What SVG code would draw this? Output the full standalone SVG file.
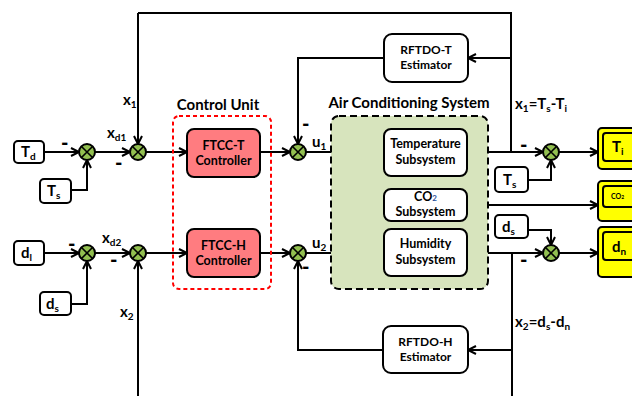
<svg xmlns="http://www.w3.org/2000/svg" width="632" height="396" viewBox="0 0 632 396">
<style>
.ln{fill:none;stroke:#000;stroke-width:2}
.box{fill:#fff;stroke:#000;stroke-width:2}
.ctl{fill:#FF7C80;stroke:#000;stroke-width:2}
.yel{fill:#FFFF00;stroke:#000;stroke-width:2}
.t{font-family:Lato,"Liberation Sans",sans-serif;font-weight:bold;fill:#000}
.bt{font-family:Lato,"Liberation Sans",sans-serif;font-weight:bold;font-size:12.5px;text-anchor:middle;fill:#000}
.et{font-size:12px}
.lbl{font-family:Lato,"Liberation Sans",sans-serif;font-weight:bold;font-size:15px;fill:#000}
.sub{font-size:10px}
.mn{font-family:Lato,"Liberation Sans",sans-serif;font-weight:900;font-size:20px;fill:#000}
</style>
<defs>
<marker id="ar" markerUnits="userSpaceOnUse" markerWidth="12" markerHeight="12" refX="9" refY="5" orient="auto">
<path d="M1,1 L9,5 L1,9" fill="none" stroke="#000" stroke-width="2"/>
</marker>
<g id="sj">
<circle r="8" fill="#92BF50" stroke="#000" stroke-width="2"/>
<path d="M-5.5,-5.5 L5.5,5.5 M-5.5,5.5 L5.5,-5.5" stroke="#000" stroke-width="1.6"/>
</g>
</defs>

<g id="connectors">
<path class="ln" d="M44,152 H79" marker-end="url(#ar)"/>
<path class="ln" d="M71,190 H87 V160" marker-end="url(#ar)"/>
<path class="ln" d="M95,152 H130" marker-end="url(#ar)"/>
<path class="ln" d="M138,13 V144" marker-end="url(#ar)"/>
<path class="ln" d="M138,13 H511 V152"/>
<path class="ln" d="M146,152 H187" marker-end="url(#ar)"/>
<path class="ln" d="M260,152 H290" marker-end="url(#ar)"/>
<path class="ln" d="M306,152 H384" marker-end="url(#ar)"/>
<path class="ln" d="M467,152 H543" marker-end="url(#ar)"/>
<path class="ln" d="M559,152 H598" marker-end="url(#ar)"/>
<path class="ln" d="M528,180 H551 V160" marker-end="url(#ar)"/>
<path class="ln" d="M511,58 H468" marker-end="url(#ar)"/>
<path class="ln" d="M384,58 H298 V144" marker-end="url(#ar)"/>

<path class="ln" d="M44,253 H79" marker-end="url(#ar)"/>
<path class="ln" d="M71,304 H87 V261" marker-end="url(#ar)"/>
<path class="ln" d="M95,253 H130" marker-end="url(#ar)"/>
<path class="ln" d="M138,396 V261" marker-end="url(#ar)"/>
<path class="ln" d="M146,253 H187" marker-end="url(#ar)"/>
<path class="ln" d="M260,253 H290" marker-end="url(#ar)"/>
<path class="ln" d="M306,253 H384" marker-end="url(#ar)"/>
<path class="ln" d="M345,253 V205 H384" marker-end="url(#ar)"/>
<path class="ln" d="M467,205 H598" marker-end="url(#ar)"/>
<path class="ln" d="M467,253 H543" marker-end="url(#ar)"/>
<path class="ln" d="M559,253 H598" marker-end="url(#ar)"/>
<path class="ln" d="M528,230 H551 V245" marker-end="url(#ar)"/>
<path class="ln" d="M512,253 V396"/>
<path class="ln" d="M512,350 H468" marker-end="url(#ar)"/>
<path class="ln" d="M383,350 H298 V261" marker-end="url(#ar)"/>
</g>

<g id="control-unit">
<rect x="173" y="116" width="98" height="173" rx="6" fill="none" stroke="#FF0000" stroke-width="2" stroke-dasharray="4,3"/>
<text class="t" x="218" y="110" font-size="15" text-anchor="middle">Control Unit</text>
</g>
<g id="ac-system">
<rect x="331" y="116" width="157" height="173" rx="8" fill="#D7E4BD" stroke="#000" stroke-width="2" stroke-dasharray="7,4"/>
<text class="t" x="409" y="108" font-size="15" text-anchor="middle">Air Conditioning System</text>
</g>

<g id="Td"><rect class="box" x="14" y="141" width="30" height="22" rx="4"/><text class="lbl" x="21" y="157">T<tspan class="sub" dy="3">d</tspan></text></g>
<g id="Ts-left"><rect class="box" x="40" y="179" width="31" height="24" rx="4"/><text class="lbl" x="47" y="196">T<tspan class="sub" dy="3">s</tspan></text></g>
<g id="dl"><rect class="box" x="14" y="241" width="30" height="24" rx="4"/><text class="lbl" x="21" y="258">d<tspan class="sub" dy="3">l</tspan></text></g>
<g id="ds-left"><rect class="box" x="40" y="292" width="31" height="23" rx="4"/><text class="lbl" x="46" y="309">d<tspan class="sub" dy="3">s</tspan></text></g>

<g id="J1"><use href="#sj" x="87" y="152"/></g>
<g id="J2"><use href="#sj" x="138" y="152"/></g>
<g id="J3"><use href="#sj" x="87" y="253"/></g>
<g id="J4"><use href="#sj" x="138" y="253"/></g>
<g id="J5"><use href="#sj" x="298" y="152"/></g>
<g id="J6"><use href="#sj" x="298" y="253"/></g>
<g id="J7"><use href="#sj" x="551" y="152"/></g>
<g id="J8"><use href="#sj" x="551" y="253"/></g>

<g id="FTCC-T"><rect class="ctl" x="187" y="129" width="73" height="48" rx="7"/><text class="bt" x="223.5" y="150">FTCC-T</text><text class="bt" x="223.5" y="165">Controller</text></g>
<g id="FTCC-H"><rect class="ctl" x="187" y="229" width="73" height="48" rx="7"/><text class="bt" x="223.5" y="250">FTCC-H</text><text class="bt" x="223.5" y="265">Controller</text></g>

<g id="temp-sub"><rect class="box" x="384" y="129" width="83" height="47" rx="7"/><text class="bt" x="425.5" y="148">Temperature</text><text class="bt" x="425.5" y="164">Subsystem</text></g>
<g id="co2-sub"><rect class="box" x="384" y="189" width="83" height="32" rx="7"/><text class="bt" x="425.5" y="201" font-size="11.5">CO<tspan font-size="8" fill="#1F4E9A">2</tspan></text><text class="bt" x="425.5" y="216">Subsystem</text></g>
<g id="hum-sub"><rect class="box" x="384" y="229" width="83" height="47" rx="7"/><text class="bt" x="425.5" y="248">Humidity</text><text class="bt" x="425.5" y="264">Subsystem</text></g>

<g id="rftdo-t"><rect class="box" x="384" y="34" width="84" height="48" rx="8"/><text class="bt et" x="426" y="54">RFTDO-T</text><text class="bt et" x="426" y="69">Estimator</text></g>
<g id="rftdo-h"><rect class="box" x="383" y="326" width="85" height="47" rx="8"/><text class="bt et" x="425.5" y="346">RFTDO-H</text><text class="bt et" x="425.5" y="361">Estimator</text></g>

<g id="Ts-right"><rect class="box" x="495" y="167" width="33" height="25" rx="4"/><text class="lbl" x="503" y="185">T<tspan class="sub" dy="3">s</tspan></text></g>
<g id="ds-right"><rect class="box" x="495" y="215" width="33" height="23" rx="4"/><text class="lbl" x="502" y="232">d<tspan class="sub" dy="3">s</tspan></text></g>

<g id="Ti"><rect class="yel" x="598" y="128" width="50" height="41" rx="4"/><rect class="yel" x="603" y="133" width="50" height="28" rx="3"/><text class="lbl" x="612" y="152" font-size="16">T<tspan class="sub" dy="3">i</tspan></text></g>
<g id="CO2"><rect class="yel" x="598" y="181" width="50" height="40" rx="4"/><rect class="yel" x="603" y="186" width="50" height="21" rx="3"/><text class="t" x="611" y="199" font-size="7">CO<tspan font-size="5">2</tspan></text></g>
<g id="dn"><rect class="yel" x="598" y="227" width="50" height="50" rx="4"/><rect class="yel" x="603" y="232" width="50" height="28" rx="3"/><text class="lbl" x="612" y="252" font-size="16">d<tspan class="sub" dy="3">n</tspan></text></g>

<g id="labels">
<text class="lbl" x="123" y="105">x<tspan class="sub" dy="3">1</tspan></text>
<text class="lbl" x="107" y="138">x<tspan class="sub" dy="3">d1</tspan></text>
<text class="lbl" x="102" y="243">x<tspan class="sub" dy="3">d2</tspan></text>
<text class="lbl" x="120" y="317">x<tspan class="sub" dy="3">2</tspan></text>
<text class="lbl" x="312" y="147">u<tspan class="sub" dy="3">1</tspan></text>
<text class="lbl" x="312" y="248">u<tspan class="sub" dy="3">2</tspan></text>
<text class="lbl" x="515" y="109">x<tspan class="sub" dy="3">1</tspan><tspan dy="-3">=T</tspan><tspan class="sub" dy="3">s</tspan><tspan dy="-3">-T</tspan><tspan class="sub" dy="3">i</tspan></text>
<text class="lbl" x="515" y="327">x<tspan class="sub" dy="3">2</tspan><tspan dy="-3">=d</tspan><tspan class="sub" dy="3">s</tspan><tspan dy="-3">-d</tspan><tspan class="sub" dy="3">n</tspan></text>
<text class="mn" x="61" y="150">-</text>
<text class="mn" x="115" y="170">-</text>
<text class="mn" x="302" y="131">-</text>
<text class="mn" x="520" y="152">-</text>
<text class="mn" x="68" y="251">-</text>
<text class="mn" x="110" y="267">-</text>
<text class="mn" x="302" y="274">-</text>
<text class="mn" x="520" y="267">-</text>
</g>
</svg>
